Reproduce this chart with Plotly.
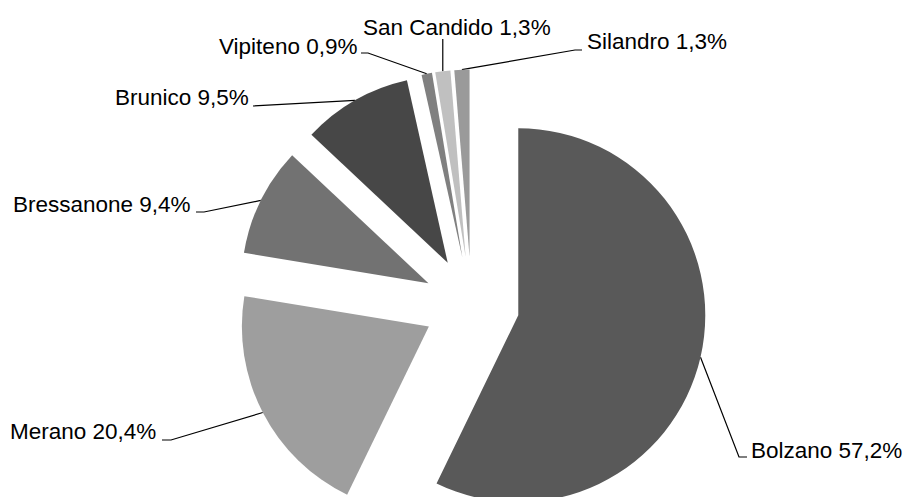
import math
import plotly.graph_objects as go

# ---- data ----
labels = ["Bolzano", "Merano", "Bressanone", "Brunico", "Vipiteno", "San Candido", "Silandro"]
values = [57.2, 20.4, 9.4, 9.5, 0.9, 1.3, 1.3]
colors = ["#595959", "#9e9e9e", "#727272", "#474747", "#808080", "#c0c0c0", "#9a9a9a"]

# ---- layout geometry (pixels) ----
W, H = 906, 609
CX, CY = 471.5, 304.5
R = 187.0
PULL = 48.0 / 187.0

# label text placement: (x, y, xanchor) and leader path after slice anchor
label_pos = [
    (749, 450, "left"),
    (158, 431.5, "right"),
    (193, 204, "right"),
    (251, 97.5, "right"),
    (359, 46.5, "right"),
    (361, 27, "left"),
    (585, 41.5, "left"),
]
leader_tail = [
    [(739, 457), (747, 457)],
    [(171, 440), (162, 440)],
    [(204, 212), (196, 212)],
    [(262, 105.5), (253, 106)],
    [(368, 53), (361, 53)],
    [None],
    [(575, 50), (582, 50)],
]

total = sum(values)
anchors = []
cum = 0.0
for v in values:
    mid = (cum + v / 2) / total * 2 * math.pi
    cum += v
    ux, uy = math.sin(mid), -math.cos(mid)
    anchors.append((CX + (1 + PULL) * R * ux, CY + (1 + PULL) * R * uy))

fig = go.Figure()
rx = R * (1 + PULL)
fig.add_trace(go.Pie(
    labels=labels, values=values, sort=False, direction="clockwise", rotation=0,
    marker=dict(colors=colors, line=dict(color="white", width=0)),
    pull=[PULL] * len(values), textinfo="none", showlegend=False,
    domain=dict(x=[(CX - rx) / W, (CX + rx) / W], y=[0, 1]),
    hoverinfo="label+percent",
))

for i, lab in enumerate(labels):
    ax, ay = anchors[i]
    tail = leader_tail[i]
    if tail[0] is None:
        xs, ys = [ax, ax], [ay, 39]
    else:
        xs = [ax] + [p[0] for p in tail]
        ys = [ay] + [p[1] for p in tail]
    fig.add_trace(go.Scatter(x=xs, y=ys, mode="lines", line=dict(color="black", width=1.2),
                             hoverinfo="skip", showlegend=False))
    tx, ty, xa = label_pos[i]
    txt = f"{lab} {values[i]:.1f}%".replace(".", ",")
    fig.add_annotation(x=tx, y=ty, xref="x", yref="y", text=txt, showarrow=False,
                       xanchor=xa, yanchor="middle",
                       font=dict(family="Liberation Sans, Arial, sans-serif", size=22.5, color="black"))

fig.update_layout(
    width=W, height=H, margin=dict(l=0, r=0, t=0, b=0),
    paper_bgcolor="white", plot_bgcolor="rgba(0,0,0,0)",
    xaxis=dict(range=[0, W], visible=False, fixedrange=True),
    yaxis=dict(range=[H, 0], visible=False, fixedrange=True),
)

fig.write_html("out.html", config={"displayModeBar": False},
               post_script="document.body.style.margin='0';document.documentElement.style.overflow='hidden';document.body.style.overflow='hidden';")
